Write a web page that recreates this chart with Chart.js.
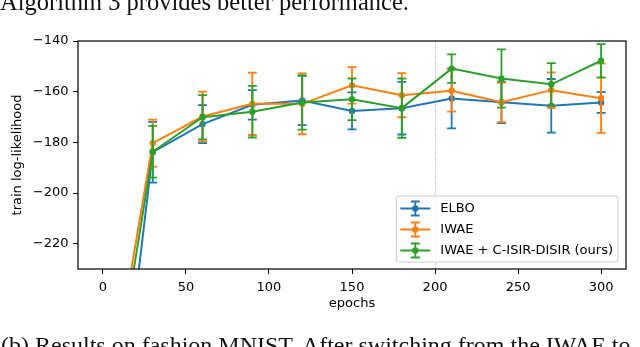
<!DOCTYPE html>
<html>
<head>
<meta charset="utf-8">
<script src="https://cdn.jsdelivr.net/npm/chart.js@4"></script>
<style>
  html, body { margin: 0; padding: 0; background: #fff; overflow: hidden; }
  #page { position: relative; width: 640px; height: 347px; overflow: hidden; }
  canvas { position: absolute; left: 0; top: 0; }
  .paper { position: absolute; white-space: nowrap; font-family: 'Liberation Serif', serif; color: #111; line-height: 1; }
</style>
</head>
<body>
<div id="page">
  <canvas id="chart" width="640" height="347"></canvas>
  <div class="paper" style="left:0px; top:-10.5px; font-size:24.5px;">Algorithm 3 provides better performance.</div>
  <div class="paper" style="left:1px; top:333px; font-size:24px;">(b) Results on fashion MNIST. After switching from the IWAE to</div>
</div>
<script>
const epochs = [0, 30, 60, 90, 120, 150, 180, 210, 240, 270, 300]
const xTicks = [0, 50, 100, 150, 200, 250, 300]
const yTicks = [-220, -200, -180, -160, -140]
const seriesNames = ['ELBO', 'IWAE', 'IWAE + C-ISIR-DISIR (ours)']
const seriesColors = ['#1f77b4', '#ff7f0e', '#2ca02c']

// mean and std per epoch (epoch 0 is far below the visible range)
const elboMean = [-350, -183.9, -172.8, -165.2, -163.5, -167.6, -166.5, -162.7, -164.2, -165.6, -164.3]
const elboErr  = [15, 12.0, 7.5, 5.8, 9.7, 7.3, 10.4, 11.8, 8.2, 10.6, 4.1]
const iwaeMean = [-296, -180.3, -169.8, -164.8, -164.8, -157.5, -161.4, -159.6, -164.2, -159.4, -162.6]
const iwaeErr  = [15, 9.3, 9.8, 12.3, 12.0, 7.2, 8.7, 8.3, 7.8, 7.0, 13.7]
const oursMean = [-306, -183.7, -170.1, -167.9, -164.3, -163.0, -166.5, -150.9, -154.8, -157.1, -147.8]
const oursErr  = [15, 10.2, 8.7, 10.2, 10.7, 8.2, 11.7, 5.6, 11.5, 8.4, 6.6]

const switchEpoch = 200

const font = { family: 'DejaVu Sans', size: 13 }

const makeSet = (i, mean, err) => ({
  label: seriesNames[i],
  data: epochs.map((e, k) => ({ x: e, y: mean[k] })),
  err: err,
  borderColor: seriesColors[i],
  backgroundColor: seriesColors[i],
  borderWidth: 2,
  pointRadius: 3.2,
  pointBorderWidth: 0,
  pointBackgroundColor: seriesColors[i],
  tension: 0,
  order: 2 - i,
})

// errorbars drawn under each line
const errorBars = {
  id: 'errorBars',
  beforeDatasetDraw(chart, args) {
    const ds = chart.data.datasets[args.index]
    const { ctx, chartArea: a, scales: { x, y } } = chart
    ctx.save()
    ctx.beginPath()
    ctx.rect(a.left, a.top, a.width, a.height)
    ctx.clip()
    ctx.strokeStyle = ds.borderColor
    ctx.lineWidth = 1.8
    ds.data.forEach((p, k) => {
      const px = x.getPixelForValue(p.x)
      const t = y.getPixelForValue(p.y + ds.err[k])
      const b = y.getPixelForValue(p.y - ds.err[k])
      ctx.beginPath()
      ctx.moveTo(px, t); ctx.lineTo(px, b)
      ctx.moveTo(px - 4.5, t); ctx.lineTo(px + 4.5, t)
      ctx.moveTo(px - 4.5, b); ctx.lineTo(px + 4.5, b)
      ctx.stroke()
    })
    ctx.restore()
  }
}

const switchLine = {
  id: 'switchLine',
  beforeDatasetsDraw(chart) {
    const { ctx, chartArea: a, scales: { x } } = chart
    const px = Math.round(x.getPixelForValue(switchEpoch)) + 0.5
    ctx.save()
    ctx.strokeStyle = '#aaaaaa'
    ctx.lineWidth = 0.8
    ctx.setLineDash([1.5, 1.5])
    ctx.beginPath()
    ctx.moveTo(px, a.top); ctx.lineTo(px, a.bottom)
    ctx.stroke()
    ctx.restore()
  }
}

const frameAndLegend = {
  id: 'frameAndLegend',
  afterDraw(chart) {
    const { ctx, chartArea: a } = chart
    ctx.save()
    // spines
    ctx.strokeStyle = '#000'
    ctx.lineWidth = 1.2
    ctx.strokeRect(a.left, a.top, a.right - a.left, a.bottom - a.top)

    // legend, lower right
    ctx.font = '13px "DejaVu Sans"'
    const tw = Math.max(...seriesNames.map(s => ctx.measureText(s).width))
    const w = 44 + tw + 5, h = 66
    const bx = a.right - 8 - w, by = a.bottom - 7 - h
    ctx.beginPath()
    ctx.roundRect(bx, by, w, h, 3)
    ctx.fillStyle = 'rgba(255,255,255,0.8)'
    ctx.fill()
    ctx.strokeStyle = '#cccccc'
    ctx.lineWidth = 1
    ctx.stroke()
    seriesNames.forEach((name, i) => {
      const cy = by + 12.5 + i * 21
      const hx = bx + 19
      ctx.strokeStyle = seriesColors[i]
      ctx.lineWidth = 2
      ctx.beginPath()
      ctx.moveTo(bx + 4, cy); ctx.lineTo(bx + 34, cy)
      ctx.stroke()
      ctx.lineWidth = 1.8
      ctx.beginPath()
      ctx.moveTo(hx, cy - 7); ctx.lineTo(hx, cy + 7)
      ctx.moveTo(hx - 4.5, cy - 7); ctx.lineTo(hx + 4.5, cy - 7)
      ctx.moveTo(hx - 4.5, cy + 7); ctx.lineTo(hx + 4.5, cy + 7)
      ctx.stroke()
      ctx.fillStyle = seriesColors[i]
      ctx.beginPath()
      ctx.arc(hx, cy, 3.2, 0, Math.PI * 2)
      ctx.fill()
      ctx.fillStyle = '#000'
      ctx.textBaseline = 'middle'
      ctx.fillText(name, bx + 44, cy)
    })
    ctx.restore()
  }
}

const chart = new Chart(document.getElementById('chart'), {
  type: 'line',
  data: {
    datasets: [
      makeSet(0, elboMean, elboErr),
      makeSet(1, iwaeMean, iwaeErr),
      makeSet(2, oursMean, oursErr),
    ]
  },
  options: {
    responsive: false,
    animation: false,
    layout: { padding: { top: 41, right: 14, bottom: 0, left: 0 } },
    plugins: { legend: { display: false }, tooltip: { enabled: false } },
    scales: {
      x: {
        type: 'linear',
        min: -15,
        max: 315,
        afterBuildTicks: s => { s.ticks = xTicks.map(v => ({ value: v })) },
        afterFit: s => { s.height = 78 },
        ticks: { font, color: '#000', padding: 6.2, maxRotation: 0, autoSkip: false },
        grid: { drawOnChartArea: false, drawTicks: true, tickLength: 5, color: '#000', lineWidth: 1 },
        border: { display: false },
        title: { display: true, text: 'epochs', font, color: '#000', padding: { top: 0, bottom: 35.2 } },
      },
      y: {
        min: -230,
        max: -140,
        afterBuildTicks: s => { s.ticks = yTicks.map(v => ({ value: v })) },
        afterFit: s => { s.width = 78 },
        ticks: { font, color: '#000', padding: 4.5, callback: v => (v < 0 ? '\u2212' : '') + Math.abs(v) },
        grid: { drawOnChartArea: false, drawTicks: true, tickLength: 5, color: '#000', lineWidth: 1 },
        border: { display: false },
        title: { display: true, text: 'train log-likelihood', font, color: '#000', padding: { top: 10.2, bottom: 0 } },
      }
    }
  },
  plugins: [errorBars, switchLine, frameAndLegend]
})
</script>
</body>
</html>
